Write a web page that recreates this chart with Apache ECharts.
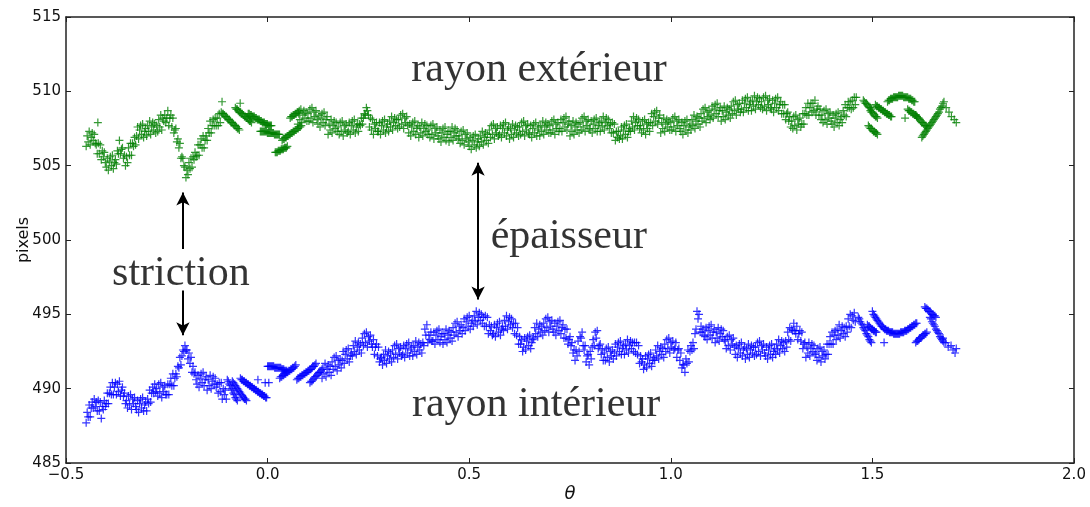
<!DOCTYPE html>
<html><head><meta charset="utf-8">
<script src="https://cdn.jsdelivr.net/npm/echarts@6/dist/echarts.min.js"></script>
<style>html,body{margin:0;padding:0;background:#fff}#c{width:1090px;height:507px}</style>
</head><body><div id="c"></div>
<script>
// ---------------- DATA ----------------
// Dense runs are sampled every thetaStep in θ, starting at the given θ.
const thetaStep = 0.0025;

// ===== outer radius (green) =====
const outerStartA = -0.45;   // one line = 0.025 in θ
const outerA = [
506.3, 507.0, 506.6, 507.3, 506.4, 506.9, 507.2, 506.7, 507.1, 506.5,
506.4, 505.8, 506.5, 505.8, 506.4, 505.4, 506.0, 505.6, 505.9, 505.2,
504.9, 505.5, 504.7, 505.3, 505.6, 505.0, 505.7, 504.8, 505.2, 505.4,
505.1, 506.0, 505.8, 506.7, 505.8, 506.1, 506.2, 505.5, 505.7, 505.0,
505.6, 505.2, 506.2, 505.7, 506.5, 505.7, 506.5, 506.3, 506.9, 506.4,
507.0, 507.6, 506.8, 507.4, 507.7, 507.1, 507.8, 506.9, 507.3, 507.5,
507.0, 507.7, 507.3, 508.0, 507.1, 507.6, 507.9, 507.4, 507.8, 507.2,
507.7, 507.3, 508.1, 507.6, 508.4, 507.4, 508.2, 508.0, 508.4, 507.9,
508.2, 508.7, 507.7, 508.2, 508.4, 507.6, 508.2, 507.2, 507.4, 507.5,
506.6, 506.8, 506.2, 506.5, 505.5, 505.6, 505.5, 505.0, 504.9, 504.2,
504.7, 504.4, 505.2, 504.8, 505.5, 504.9, 505.6, 505.4, 505.9, 505.6,
505.7, 506.4, 505.7, 506.4, 506.8, 506.2, 507.0, 506.2, 506.7, 507.0,
506.7, 507.5, 507.2, 508.0, 507.2, 507.7, 508.1, 507.7, 508.2, 507.7,
508.2, 507.7, 508.5, 507.9
];
const outerStartB = 0.075;   // one line = 0.025 in θ
const outerB = [
507.8, 508.5, 508.1, 508.8, 507.9, 508.4, 508.7, 508.2, 508.6, 508.0,
508.5, 508.0, 508.8, 508.2, 508.9, 507.9, 508.6, 508.3, 508.7, 508.1,
507.8, 508.4, 507.6, 508.2, 508.5, 507.9, 508.6, 507.7, 508.1, 508.3,
507.1, 507.8, 507.4, 508.1, 507.2, 507.7, 508.0, 507.5, 507.9, 507.3,
507.6, 507.1, 507.9, 507.3, 508.0, 507.0, 507.7, 507.4, 507.8, 507.2,
507.3, 507.9, 507.1, 507.7, 508.0, 507.4, 508.1, 507.2, 507.6, 507.8,
507.3, 507.8, 507.7, 508.2, 507.8, 508.2, 508.5, 508.4, 508.9, 508.7,
508.4, 507.6, 508.2, 507.4, 508.1, 507.1, 507.8, 507.5, 507.9, 507.3,
507.3, 507.9, 507.1, 507.7, 508.0, 507.4, 508.1, 507.2, 507.6, 507.8,
507.3, 508.0, 507.6, 508.3, 507.4, 507.9, 508.2, 507.7, 508.1, 507.5,
508.1, 507.6, 508.4, 507.8, 508.5, 507.5, 508.2, 507.9, 508.3, 507.7,
507.2, 507.8, 507.0, 507.6, 507.9, 507.3, 508.0, 507.1, 507.5, 507.7,
506.9, 507.6, 507.2, 507.9, 507.0, 507.5, 507.8, 507.3, 507.7, 507.1,
507.4, 506.9, 507.7, 507.1, 507.8, 506.8, 507.5, 507.2, 507.6, 507.0,
506.8, 507.4, 506.6, 507.2, 507.5, 506.9, 507.6, 506.7, 507.1, 507.3,
506.6, 507.3, 506.9, 507.6, 506.7, 507.2, 507.5, 507.0, 507.4, 506.8,
507.0, 506.5, 507.3, 506.7, 507.4, 506.4, 507.1, 506.8, 507.2, 506.6,
506.3, 506.9, 506.1, 506.7, 507.0, 506.4, 507.1, 506.2, 506.6, 506.8,
506.3, 507.0, 506.6, 507.3, 506.4, 506.9, 507.2, 506.7, 507.1, 506.5,
507.4, 506.9, 507.7, 507.1, 507.8, 506.8, 507.5, 507.2, 507.6, 507.0,
507.1, 507.7, 506.9, 507.5, 507.8, 507.2, 507.9, 507.0, 507.4, 507.6,
506.8, 507.5, 507.1, 507.8, 506.9, 507.4, 507.7, 507.2, 507.6, 507.0,
507.6, 507.1, 507.9, 507.3, 508.0, 507.0, 507.7, 507.4, 507.8, 507.2,
507.1, 507.7, 506.9, 507.5, 507.8, 507.2, 507.9, 507.0, 507.4, 507.6,
507.0, 507.7, 507.3, 508.0, 507.1, 507.6, 507.9, 507.4, 507.8, 507.2,
507.7, 507.2, 508.0, 507.4, 508.1, 507.1, 507.8, 507.5, 507.9, 507.3,
507.5, 508.1, 507.3, 507.9, 508.2, 507.6, 508.3, 507.4, 507.8, 508.0,
507.0, 507.7, 507.3, 508.0, 507.1, 507.6, 507.9, 507.4, 507.8, 507.2,
507.9, 507.4, 508.2, 507.6, 508.3, 507.3, 508.0, 507.7, 508.1, 507.5,
507.4, 508.0, 507.2, 507.8, 508.1, 507.5, 508.2, 507.3, 507.7, 507.9,
507.3, 508.0, 507.6, 508.3, 507.4, 507.9, 508.2, 507.7, 508.1, 507.5,
507.8, 507.2, 507.9, 507.2, 507.8, 506.7, 507.3, 506.9, 507.3, 506.8,
507.0, 507.6, 506.8, 507.4, 507.7, 507.1, 507.8, 506.9, 507.3, 507.5,
507.3, 508.0, 507.6, 508.3, 507.4, 507.9, 508.2, 507.7, 508.1, 507.5,
507.7, 507.2, 508.0, 507.4, 508.1, 507.1, 507.8, 507.5, 507.9, 507.3,
507.9, 508.5, 507.7, 508.3, 508.6, 508.0, 508.7, 507.8, 508.2, 508.4,
507.2, 507.9, 507.5, 508.2, 507.3, 507.8, 508.1, 507.6, 508.0, 507.4,
507.9, 507.4, 508.2, 507.6, 508.3, 507.3, 508.0, 507.7, 508.1, 507.5,
507.3, 507.9, 507.1, 507.7, 508.0, 507.4, 508.1, 507.2, 507.6, 507.8,
507.4, 508.1, 507.7, 508.4, 507.5, 508.0, 508.3, 507.8, 508.2, 507.6,
508.5, 508.0, 508.8, 508.2, 508.9, 507.9, 508.6, 508.3, 508.7, 508.1,
508.4, 509.0, 508.2, 508.8, 509.1, 508.5, 509.2, 508.3, 508.7, 508.9,
508.0, 508.7, 508.3, 509.0, 508.1, 508.6, 508.9, 508.4, 508.8, 508.2,
509.0, 508.5, 509.3, 508.7, 509.4, 508.4, 509.1, 508.8, 509.2, 508.6,
508.8, 509.4, 508.6, 509.2, 509.5, 508.9, 509.6, 508.7, 509.1, 509.3,
508.7, 509.4, 509.0, 509.7, 508.8, 509.3, 509.6, 509.1, 509.5, 508.9,
509.3, 508.8, 509.6, 509.0, 509.7, 508.7, 509.4, 509.1, 509.5, 508.9,
508.8, 509.4, 508.6, 509.2, 509.5, 508.9, 509.6, 508.7, 509.1, 509.3,
508.5, 509.1, 508.5, 509.1, 508.1, 508.5, 508.6, 508.0, 508.3, 507.6,
508.0, 507.5, 508.3, 507.7, 508.4, 507.4, 508.1, 507.8, 508.2, 507.6,
507.8, 508.5, 507.8, 508.5, 508.9, 508.4, 509.2, 508.4, 508.9, 509.2,
508.6, 509.2, 508.7, 509.4, 508.4, 508.8, 509.0, 508.4, 508.8, 508.1,
508.4, 507.9, 508.7, 508.1, 508.8, 507.8, 508.5, 508.2, 508.6, 508.0,
507.8, 508.4, 507.6, 508.2, 508.5, 507.9, 508.6, 507.7, 508.1, 508.3,
507.9, 508.7, 508.4, 509.1, 508.3, 508.9, 509.3, 508.9, 509.3, 508.8,
509.4, 508.9, 509.6, 509.1, 509.6
];
// short dashes of the outer curve: start θ and values every thetaStep
const outerDashStart = [-0.115, -0.080, -0.048, -0.018, 0.019, 0.036, 0.056,
                        1.4775, 1.495, 1.490, 1.5075, 1.5375, 1.5875, 1.6075, 1.6225];
const outerDashR = [
  [508.6, 508.5, 508.5, 508.4, 508.3, 508.3, 508.2, 508.1, 508.1, 508.0, 507.9, 507.9, 507.8, 507.7, 507.7, 507.6, 507.5, 507.5, 507.4],
  [508.9, 508.8, 508.8, 508.7, 508.6, 508.6, 508.5, 508.5, 508.4, 508.3, 508.3, 508.2, 508.2, 508.1, 508.0, 508.0, 507.9],
  [508.5, 508.5, 508.4, 508.4, 508.3, 508.3, 508.3, 508.2, 508.2, 508.1, 508.1, 508.1, 508.0, 508.0, 507.9, 507.9, 507.9, 507.8, 507.8, 507.8, 507.7, 507.7, 507.7, 507.7],
  [507.3, 507.3, 507.3, 507.3, 507.3, 507.3, 507.3, 507.2, 507.2, 507.2, 507.2, 507.2, 507.2, 507.2, 507.1, 507.1, 507.1, 507.1, 507.1, 507.1],
  [505.9, 505.9, 505.9, 506.0, 506.0, 506.0, 506.1, 506.1, 506.1, 506.2, 506.2, 506.2, 506.3],
  [506.7, 506.8, 506.8, 506.9, 506.9, 507.0, 507.0, 507.1, 507.1, 507.2, 507.2, 507.3, 507.3, 507.4, 507.4, 507.5, 507.5, 507.6, 507.6, 507.7],
  [508.2, 508.3, 508.3, 508.4, 508.4, 508.5, 508.5, 508.6, 508.6, 508.7],
  [509.4, 509.3, 509.2, 509.2, 509.1, 509.0, 508.9, 508.9, 508.8],
  [508.7, 508.6, 508.6, 508.5, 508.4, 508.3, 508.3, 508.2],
  [507.7, 507.6, 507.5, 507.5, 507.4, 507.3, 507.3, 507.2, 507.2, 507.1],
  [509.1, 509.0, 509.0, 508.9, 508.9, 508.8, 508.8, 508.7, 508.7, 508.6, 508.6, 508.5, 508.5, 508.4, 508.4, 508.3, 508.3],
  [509.3, 509.4, 509.4, 509.5, 509.5, 509.5, 509.6, 509.6, 509.6, 509.6, 509.6, 509.7, 509.7, 509.7, 509.7, 509.7, 509.6, 509.6, 509.6, 509.6, 509.6, 509.5, 509.5, 509.5, 509.4, 509.4, 509.3, 509.3],
  [508.8, 508.7, 508.7, 508.6, 508.6, 508.5, 508.5, 508.4, 508.4, 508.3],
  [508.4, 508.3, 508.2, 508.2, 508.1, 508.0, 507.9, 507.9, 507.8, 507.7, 507.7, 507.6],
  [506.9, 507.0, 507.1, 507.2, 507.3, 507.4, 507.5, 507.6, 507.7, 507.8, 507.9, 508.0, 508.1, 508.2, 508.3, 508.4, 508.5, 508.6, 508.8, 508.9, 509.0, 509.2, 509.3]
];
// isolated outer crosses
const outerDotTheta = [-0.421, -0.113, -0.068, 1.581, 1.683, 1.690, 1.696, 1.703, 1.708];
const outerDotR     = [507.9, 509.3, 509.2, 508.2, 508.9, 508.6, 508.3, 508.1, 507.9];

// ===== inner radius (blue) =====
const innerStartA = -0.45;   // one line = 0.025 in θ
const innerA = [
487.7, 488.4, 488.1, 488.9, 488.1, 488.7, 489.1, 488.7, 489.3, 488.8,
489.1, 488.5, 489.2, 488.5, 489.1, 488.0, 488.8, 488.6, 489.2, 488.8,
489.0, 489.7, 489.0, 489.7, 490.1, 489.6, 490.4, 489.6, 490.1, 490.4,
489.6, 490.3, 489.8, 490.5, 489.5, 489.9, 490.1, 489.5, 489.7, 489.0,
489.2, 488.7, 489.5, 488.9, 489.6, 488.6, 489.3, 489.0, 489.4, 488.8,
488.6, 489.2, 488.4, 489.0, 489.3, 488.7, 489.4, 488.5, 488.9, 489.1,
488.5, 489.3, 489.0, 489.9, 489.1, 489.7, 490.1, 489.7, 490.3, 489.8,
490.0, 489.5, 490.3, 489.7, 490.4, 489.4, 490.1, 489.8, 490.2, 489.6,
489.6, 490.3, 489.6, 490.3, 490.7, 490.2, 491.0, 490.2, 490.7, 491.0,
490.8, 491.5, 491.4, 492.1, 491.6, 492.2, 492.6, 492.5, 492.9, 492.6,
492.6, 492.0, 492.4, 491.7, 492.1, 491.1, 491.5, 491.0, 491.1, 490.6,
490.3, 490.9, 490.1, 490.7, 491.0, 490.4, 491.1, 490.2, 490.6, 490.8,
489.9, 490.6, 490.2, 490.9, 490.0, 490.5, 490.8, 490.3, 490.7, 490.1,
490.3, 489.7, 490.4, 489.8, 490.4, 489.3, 490.0, 489.6, 489.9, 489.3
];
const innerStartB = 0.135;   // one line = 0.025 in θ
const innerB = [
490.7, 491.4, 491.0, 491.7, 490.8, 491.3, 491.6, 491.1, 491.5, 490.9,
491.8, 491.3, 492.1, 491.5, 492.2, 491.2, 491.9, 491.6, 492.0, 491.4,
491.9, 492.5, 491.7, 492.3, 492.6, 492.0, 492.7, 491.8, 492.2, 492.4,
492.2, 492.9, 492.5, 493.2, 492.3, 492.8, 493.1, 492.6, 493.0, 492.4,
493.4, 492.9, 493.7, 493.1, 493.8, 492.8, 493.5, 493.2, 493.6, 493.0,
492.8, 493.3, 492.3, 492.8, 493.0, 492.2, 492.8, 491.8, 492.0, 492.1,
491.6, 492.3, 491.9, 492.6, 491.7, 492.2, 492.5, 492.0, 492.4, 491.8,
492.6, 492.1, 492.9, 492.3, 493.0, 492.0, 492.7, 492.4, 492.8, 492.2,
492.3, 492.9, 492.1, 492.7, 493.0, 492.4, 493.1, 492.2, 492.6, 492.8,
492.2, 492.9, 492.5, 493.2, 492.3, 492.8, 493.1, 492.6, 493.0, 492.4,
493.1, 492.9, 494.0, 493.6, 494.3, 493.1, 493.6, 493.3, 493.8, 493.2,
493.2, 493.8, 493.0, 493.6, 493.9, 493.3, 494.0, 493.1, 493.5, 493.7,
493.0, 493.7, 493.3, 494.0, 493.1, 493.6, 493.9, 493.4, 493.8, 493.2,
494.1, 493.6, 494.4, 493.8, 494.5, 493.5, 494.2, 493.9, 494.3, 493.7,
494.1, 494.7, 493.9, 494.5, 494.8, 494.2, 494.9, 494.0, 494.4, 494.6,
494.2, 494.9, 494.5, 495.2, 494.3, 494.8, 495.1, 494.6, 495.0, 494.4,
494.8, 494.2, 494.9, 494.2, 494.8, 493.7, 494.3, 493.9, 494.2, 493.6,
493.7, 494.3, 493.5, 494.1, 494.4, 493.8, 494.5, 493.6, 494.0, 494.2,
493.9, 494.6, 494.2, 494.9, 494.0, 494.5, 494.8, 494.3, 494.7, 494.1,
494.4, 493.7, 494.4, 493.6, 494.1, 493.0, 493.5, 493.0, 493.3, 492.5,
492.8, 493.4, 492.6, 493.2, 493.5, 492.9, 493.6, 492.7, 493.1, 493.3,
493.4, 494.1, 493.7, 494.4, 493.5, 494.0, 494.3, 493.8, 494.2, 493.6,
494.4, 493.9, 494.7, 494.1, 494.8, 493.8, 494.5, 494.2, 494.6, 494.0,
493.8, 494.4, 493.6, 494.2, 494.5, 493.9, 494.6, 493.7, 494.1, 494.3,
493.4, 494.0, 493.4, 494.0, 493.0, 493.3, 493.5, 492.9, 493.1, 492.4,
492.6, 491.9, 492.6, 492.2, 493.2, 492.5, 493.5, 493.4, 493.8, 492.9,
492.6, 492.9, 491.8, 492.2, 492.3, 491.6, 492.5, 492.0, 492.8, 493.3,
492.9, 493.8, 493.4, 493.9, 492.7, 492.9, 493.0, 492.3, 492.6, 491.9,
492.4, 491.9, 492.7, 492.1, 492.8, 491.8, 492.5, 492.2, 492.6, 492.0,
492.4, 493.0, 492.2, 492.8, 493.1, 492.5, 493.2, 492.3, 492.7, 492.9,
492.3, 493.0, 492.6, 493.3, 492.4, 492.9, 493.2, 492.7, 493.1, 492.5,
493.1, 492.4, 493.1, 492.3, 492.9, 491.7, 492.2, 491.8, 492.0, 491.3,
491.6, 492.2, 491.4, 492.0, 492.3, 491.7, 492.4, 491.5, 491.9, 492.1,
491.9, 492.6, 492.2, 492.9, 492.0, 492.5, 492.8, 492.3, 492.7, 492.1,
493.0, 492.5, 493.3, 492.7, 493.4, 492.4, 493.1, 492.8, 493.2, 492.6,
492.7, 493.1, 492.1, 492.6, 492.7, 491.9, 492.4, 491.4, 491.6, 491.6,
491.1, 492.0, 491.7, 492.6, 491.8, 492.5, 492.9, 492.6, 493.1, 492.7,
493.7, 494.0, 495.2, 494.7, 495.0, 493.8, 494.2, 493.8, 494.0, 493.6,
493.5, 494.1, 493.3, 493.9, 494.2, 493.6, 494.3, 493.4, 493.8, 494.0,
493.1, 493.8, 493.4, 494.1, 493.2, 493.7, 494.0, 493.5, 493.9, 493.3,
493.2, 492.7, 493.5, 492.9, 493.6, 492.6, 493.3, 493.0, 493.4, 492.8,
492.3, 492.9, 492.1, 492.7, 493.0, 492.4, 493.1, 492.2, 492.6, 492.8,
492.0, 492.7, 492.3, 493.0, 492.1, 492.6, 492.9, 492.4, 492.8, 492.2,
492.8, 492.3, 493.1, 492.5, 493.2, 492.2, 492.9, 492.6, 493.0, 492.4,
492.2, 492.8, 492.0, 492.6, 492.9, 492.3, 493.0, 492.1, 492.5, 492.7,
492.3, 493.0, 492.6, 493.3, 492.4, 492.9, 493.2, 492.7, 493.1, 492.5,
493.2, 492.8, 493.8, 493.3, 494.1, 493.2, 494.0, 493.9, 494.4, 493.9,
493.7, 494.2, 493.3, 493.7, 493.9, 493.2, 493.8, 492.7, 493.0, 493.1,
492.1, 492.8, 492.4, 493.1, 492.2, 492.7, 493.0, 492.5, 492.9, 492.3,
492.4, 491.9, 492.7, 492.1, 492.8, 491.8, 492.5, 492.2, 492.6, 492.0,
492.3, 493.0, 492.3, 493.0, 493.5, 493.0, 493.8, 493.0, 493.6, 493.9,
493.3, 494.0, 493.6, 494.3, 493.4, 493.9, 494.2, 493.7, 494.1, 493.5,
494.2, 493.8, 494.7, 494.2, 495.0, 494.1, 494.9, 494.6, 495.1, 494.5
];
// short dashes of the inner curve: start θ and values every thetaStep
const innerDashStart = [-0.100, -0.0875, -0.0675, 0.000, 0.030, 0.0725, 0.105,
                        1.465, 1.4875, 1.500, 1.6075, 1.630, 1.6425];
const innerDashR = [
  [490.6, 490.5, 490.3, 490.2, 490.0, 489.9, 489.7, 489.6, 489.4, 489.3, 489.2],
  [490.5, 490.4, 490.3, 490.2, 490.1, 490.0, 489.9, 489.8, 489.7, 489.6, 489.5, 489.4, 489.3, 489.3, 489.2],
  [490.7, 490.6, 490.6, 490.5, 490.5, 490.4, 490.4, 490.3, 490.3, 490.2, 490.2, 490.1, 490.1, 490.0, 490.0, 489.9, 489.9, 489.8, 489.8, 489.7, 489.7, 489.6, 489.6, 489.5, 489.5, 489.4, 489.4],
  [491.5, 491.5, 491.5, 491.5, 491.5, 491.5, 491.5, 491.4, 491.4, 491.4, 491.4, 491.4, 491.4, 491.4, 491.3, 491.3, 491.3, 491.2, 491.2, 491.2],
  [490.7, 490.8, 490.8, 490.9, 490.9, 491.0, 491.0, 491.1, 491.1, 491.2, 491.2, 491.3, 491.3, 491.4, 491.4, 491.5, 491.6],
  [490.6, 490.7, 490.7, 490.8, 490.8, 490.9, 490.9, 491.0, 491.0, 491.1, 491.1, 491.2, 491.2, 491.3, 491.3, 491.4, 491.5, 491.5, 491.6, 491.7],
  [490.4, 490.5, 490.5, 490.6, 490.7, 490.8, 490.8, 490.9, 491.0, 491.1, 491.1, 491.2, 491.3],
  [494.8, 494.7, 494.5, 494.4, 494.3, 494.1, 494.0, 493.9, 493.7, 493.6, 493.5, 493.3, 493.2, 493.1],
  [494.3, 494.2, 494.2, 494.1, 494.0, 494.0, 493.9, 493.9, 493.8, 493.8],
  [495.2, 495.0, 494.9, 494.8, 494.7, 494.6, 494.5, 494.4, 494.3, 494.2, 494.2, 494.1, 494.0, 494.0, 493.9, 493.9, 493.9, 493.8, 493.8, 493.8, 493.8, 493.7, 493.7, 493.7, 493.7, 493.7, 493.7, 493.7, 493.8, 493.8, 493.8, 493.8, 493.9, 493.9, 493.9, 494.0, 494.0, 494.1, 494.1, 494.2, 494.2, 494.3, 494.3, 494.4, 494.4],
  [493.1, 493.2, 493.2, 493.3, 493.4, 493.4, 493.5, 493.6, 493.6, 493.7, 493.7, 493.8],
  [495.5, 495.4, 495.4, 495.3, 495.2, 495.2, 495.1, 495.0, 495.0, 494.9, 494.9, 494.8],
  [494.8, 494.7, 494.5, 494.4, 494.3, 494.2, 494.0, 493.9, 493.8, 493.7, 493.5, 493.4, 493.3, 493.2, 493.1]
];
// isolated inner crosses
const innerDotTheta = [-0.024, -0.006, 0.003, 1.529, 1.675, 1.682, 1.688, 1.695, 1.700, 1.705, 1.708];
const innerDotR     = [490.6, 490.4, 490.4, 493.1, 493.4, 493.1, 492.8, 492.9, 492.6, 492.4, 492.7];

// ===== annotations =====
const annoText  = ['rayon extérieur', 'rayon intérieur', 'striction', 'épaisseur'];
const annoTheta = [0.673, 0.666, -0.215, 0.747];
const annoR     = [511.44, 488.91, 497.72, 500.21];

// arrows (vertical): θ, tail value, head value, double-headed?
const arrowTheta = [-0.21, -0.21, 0.522];
const arrowFrom  = [499.4, 496.6, 496.0];
const arrowTo    = [503.2, 493.6, 505.2];
const arrowBoth  = [false, false, true];

// axis ticks
const xTicks = { min: -0.5, max: 2.0, step: 0.5 };
const yTicks = { min: 485, max: 515, step: 5 };

// ---------------- BUILD ----------------
function run(start, vals) {
  return vals.map((v, i) => [+(start + i * thetaStep).toFixed(4), v]);
}
function zip(t, r) { return t.map((x, i) => [x, r[i]]); }
function dashes(starts, vals) {
  return starts.reduce((acc, s, k) => acc.concat(run(s, vals[k])), []);
}

const outerData = run(outerStartA, outerA).concat(
  run(outerStartB, outerB), dashes(outerDashStart, outerDashR), zip(outerDotTheta, outerDotR));
const innerData = run(innerStartA, innerA).concat(
  run(innerStartB, innerB), dashes(innerDashStart, innerDashR), zip(innerDotTheta, innerDotR));

const plus = 'path://M0,5L10,5M5,0L5,10';
const AXC = '#222';
const tickFont = { fontFamily: 'DejaVu Sans', fontSize: 15, color: '#111' };

const arrowLines = arrowTheta.map((t, i) => [
  { coord: [t, arrowFrom[i]], symbol: arrowBoth[i] ? 'arrow' : 'none' },
  { coord: [t, arrowTo[i]], symbol: 'arrow' }
]);

const chart = echarts.init(document.getElementById('c'), null, { renderer: 'canvas' });
chart.setOption({
  animation: false,
  backgroundColor: '#fff',
  grid: { left: 66, right: 16, top: 17, bottom: 44, containLabel: false, outerBoundsMode: 'none' },
  xAxis: [{
    type: 'value', min: xTicks.min, max: xTicks.max, interval: xTicks.step,
    name: 'θ', nameLocation: 'middle', nameGap: 22, nameMoveOverlap: false,
    nameTextStyle: { fontFamily: 'DejaVu Sans', fontStyle: 'italic', fontSize: 18, color: '#111' },
    axisLine: { onZero: false, lineStyle: { color: AXC, width: 1.5 } },
    axisTick: { inside: true, length: 5, lineStyle: { color: AXC } },
    axisLabel: Object.assign({ margin: 5, formatter: v => (v < 0 ? '\u2212' : '') + Math.abs(v).toFixed(1) }, tickFont),
    splitLine: { show: false }
  }, {
    type: 'value', position: 'top', min: xTicks.min, max: xTicks.max, interval: xTicks.step,
    axisLine: { onZero: false, lineStyle: { color: AXC, width: 1.5 } },
    axisTick: { inside: true, length: 5, lineStyle: { color: AXC } },
    axisLabel: { show: false }, splitLine: { show: false }
  }],
  yAxis: [{
    type: 'value', min: yTicks.min, max: yTicks.max, interval: yTicks.step,
    name: 'pixels', nameLocation: 'middle', nameGap: 34, nameMoveOverlap: false,
    nameTextStyle: { fontFamily: 'DejaVu Sans', fontSize: 16, color: '#111' },
    axisLine: { onZero: false, lineStyle: { color: AXC, width: 1.5 } },
    axisTick: { inside: true, length: 5, lineStyle: { color: AXC } },
    axisLabel: Object.assign({ margin: 5 }, tickFont),
    splitLine: { show: false }
  }, {
    type: 'value', position: 'right', min: yTicks.min, max: yTicks.max, interval: yTicks.step,
    axisLine: { onZero: false, lineStyle: { color: AXC, width: 1.5 } },
    axisTick: { inside: true, length: 5, lineStyle: { color: AXC } },
    axisLabel: { show: false }, splitLine: { show: false }
  }],
  series: [{
    name: 'rayon extérieur', type: 'scatter', data: outerData, large: false,
    symbol: plus, symbolSize: 8,
    itemStyle: { color: '#008000', borderColor: '#008000', borderWidth: 1.2 },
    emphasis: { disabled: true }, silent: true
  }, {
    name: 'rayon intérieur', type: 'scatter', data: innerData, large: false,
    symbol: plus, symbolSize: 8,
    itemStyle: { color: '#0000ff', borderColor: '#0000ff', borderWidth: 1.2 },
    emphasis: { disabled: true }, silent: true
  }, {
    name: 'annotations', type: 'scatter', silent: true, z: 5,
    data: annoText.map((s, i) => ({ value: [annoTheta[i], annoR[i]], name: s })),
    symbol: 'circle', symbolSize: 1, itemStyle: { color: 'rgba(0,0,0,0)' },
    label: { show: true, position: 'inside', formatter: p => p.name,
      fontFamily: 'Liberation Serif', fontSize: 42, color: '#000',
      textBorderWidth: 0 },
    markLine: {
      silent: true, symbolSize: [10, 13],
      lineStyle: { color: '#000', width: 2, type: 'solid' },
      label: { show: false },
      data: arrowLines
    }
  }]
});
</script></body></html>
